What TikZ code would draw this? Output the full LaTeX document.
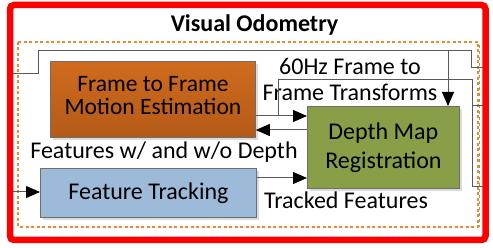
\documentclass[tikz,border=0pt]{standalone}
\usepackage{fontspec}
\setmainfont{Carlito}
\usetikzlibrary{arrows.meta,shadows}
\definecolor{redframe}{HTML}{FF0000}
\definecolor{orgdash}{HTML}{F0862D}
\definecolor{grndash}{HTML}{8FA85A}
\definecolor{orgtop}{HTML}{CF6B1E}
\definecolor{orgbot}{HTML}{B45A18}
\definecolor{grnfill}{HTML}{889E47}
\definecolor{blufill}{HTML}{9DBAD9}
\definecolor{boxline}{HTML}{6E6E6E}
\definecolor{conline}{HTML}{595959}
\begin{document}
\begin{tikzpicture}[x=1pt,y=-1pt,
  boxbase/.style={draw=boxline, line width=0.8pt, anchor=north west, align=center,
    inner sep=2pt, drop shadow={shadow xshift=3pt, shadow yshift=-3pt, fill=black!14, opacity=1}},
  lbl/.style={inner sep=0pt, align=center, font=\fontsize{24}{26}\selectfont},
  conn/.style={draw=conline, line width=1pt},
  arr/.style={conn, -{Triangle[length=14pt,width=12pt,fill=black,color=black]}}
]
\useasboundingbox (0,0) rectangle (493,248);

% dashed enclosure
\draw[grndash, line width=1.3pt, dash pattern=on 3pt off 3pt, dash phase=3pt] (479.5,42) -- (479.5,227);
\draw[orgdash, line width=1.4pt, dash pattern=on 3pt off 2.5pt] (18,42) rectangle (478,227);

% title
\node[anchor=base, font=\bfseries\fontsize{24}{28}\selectfont] (title) at (254.5,32) {Visual Odometry};

% boxes
\node[boxbase, top color=orgtop, bottom color=orgbot, minimum width=205pt, minimum height=76pt,
      text depth=8pt, font=\fontsize{23.5}{22.5}\selectfont] (ff) at (50,61) {Frame to Frame\\Motion Estimation};
\node[boxbase, fill=grnfill, minimum width=152pt, minimum height=82pt,
      font=\fontsize{24}{29}\selectfont] (dm) at (307,106) {Depth Map\\Registration};
\node[boxbase, fill=blufill, minimum width=216pt, minimum height=49pt,
      font=\fontsize{24}{26}\selectfont] (ft) at (40,168) {Feature Tracking};

% labels
\node[lbl] (l60) at (350,79.3) {60Hz Frame to\\Frame Transforms};
\node[lbl, anchor=base] (lfeat) at (164,159) {Features w/ and w/o Depth};
\node[lbl, anchor=base] (ltrk) at (346,209) {Tracked Features};

% waypoints
\coordinate (inA) at (8,74);
\coordinate (pA1) at (38,74);
\coordinate (pA2) at (38,51);
\coordinate (pA3) at (471,51);
\coordinate (pA4) at (471,68);
\coordinate (outA) at (483,68);
\coordinate (brA) at (448,51);
\coordinate (j1) at (278,116);
\coordinate (pB1) at (278,80);
\coordinate (pB2) at (472,80);
\coordinate (pB3) at (472,187);
\coordinate (outB) at (483,187);
\coordinate (tB) at (472,106);
\coordinate (outT) at (483,106);
\coordinate (inF) at (8,192);

% connectors
\draw[conn] (inA) -- (pA1) -- (pA2) -- (pA3) -- (pA4) -- (outA);
\draw[arr] (brA) -- (brA |- dm.north);
\draw[arr] (ff.east |- j1) -- (dm.west |- j1);
\draw[conn] (j1) -- (pB1) -- (pB2) -- (pB3) -- (outB);
\draw[conn] (tB) -- (outT);
\draw[arr] (dm.west |- 0,130) -- (ff.east |- 0,130);
\draw[arr] (ft.east |- 0,178) -- (dm.west |- 0,178);
\draw[arr] (inF) -- (ft.west |- inF);

% red frame
\draw[redframe, line width=6.5pt, rounded corners=4pt] (10,5) rectangle (485.5,240);
\end{tikzpicture}
\end{document}
